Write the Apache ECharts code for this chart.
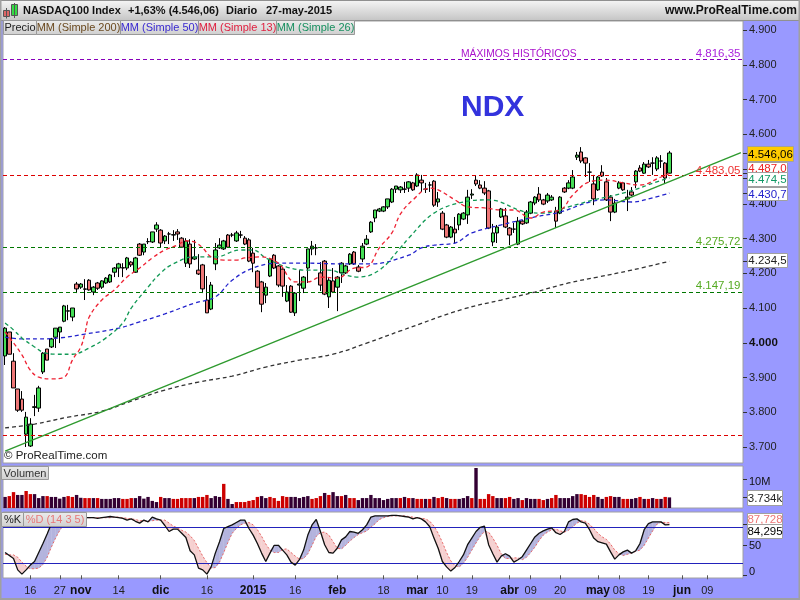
<!DOCTYPE html>
<html><head><meta charset="utf-8">
<style>html,body{margin:0;padding:0;background:#9999ff}#c{width:800px;height:600px}</style>
<script src="https://cdn.jsdelivr.net/npm/echarts@6/dist/echarts.min.js"></script>
</head><body><div id="c"></div>
<script>
const opens=[3962,4031,3947,3867,3838,3737,3703,3814,3812,3916,
3982,3988,4016,4031,4062,4091,4074,4169,4160,4155,
4180,4146,4172,4160,4172,4175,4203,4215,4215,4215,
4232,4203,4284,4261,4291,4290,4327,4324,4293,4313,
4310,4319,4301,4229,4284,4241,4209,4224,4123,4097,
4227,4273,4270,4310,4310,4293,4310,4301,4296,4258,
4206,4175,4137,4192,4252,4221,4212,4120,4163,4086,
4166,4157,4215,4270,4273,4201,4235,4132,4178,4160,
4201,4201,4227,4261,4218,4241,4284,4319,4359,4379,
4379,4391,4405,4442,4440,4442,4445,4460,4451,4468,
4442,4454,4465,4405,4373,4339,4304,4327,4339,4356,
4368,4425,4468,4454,4445,4437,4290,4316,4362,4365,
4330,4327,4284,4350,4345,4373,4402,4428,4411,4408,
4411,4379,4373,4445,4445,4445,4534,4549,4532,4491,
4457,4440,4491,4463,4419,4376,4445,4460,4414,4434,
4463,4503,4488,4514,4517,4500,4523,4517,4488];
const closes=[4042,3967,3870,3806,3806,3786,3766,3816,3870,3970,
3950,4011,4042,4045,4106,4092,4100,4155,4169,4154,
4152,4160,4157,4178,4186,4195,4215,4227,4216,4244,
4224,4244,4252,4284,4291,4319,4339,4287,4307,4313,
4311,4313,4275,4293,4227,4247,4198,4155,4086,4166,
4267,4281,4293,4275,4310,4316,4310,4284,4235,4229,
4160,4111,4160,4241,4215,4166,4163,4146,4088,4143,
4169,4189,4270,4278,4273,4166,4140,4180,4146,4189,
4229,4221,4255,4227,4206,4278,4298,4347,4382,4385,
4391,4414,4442,4451,4448,4442,4463,4440,4483,4460,
4442,4454,4396,4414,4327,4304,4333,4316,4370,4373,
4419,4428,4457,4445,4431,4330,4316,4333,4385,4333,
4310,4327,4350,4342,4376,4405,4419,4411,4399,4425,
4419,4350,4419,4434,4460,4477,4540,4523,4517,4491,
4414,4477,4480,4411,4376,4402,4460,4440,4419,4425,
4494,4494,4514,4506,4517,4532,4523,4474,4546.06];
const lows=[3936,3967,3870,3801,3801,3700,3700,3789,3801,3910,
3950,3985,3985,3999,4059,4065,4062,4143,4155,4123,
4150,4137,4152,4155,4169,4172,4189,4189,4189,4209,
4218,4201,4250,4252,4284,4287,4319,4273,4284,4284,
4293,4296,4273,4218,4215,4238,4195,4143,4086,4094,
4209,4270,4267,4273,4304,4290,4301,4281,4232,4203,
4157,4088,4114,4189,4212,4160,4132,4117,4086,4077,
4120,4143,4172,4252,4252,4149,4137,4100,4143,4091,
4172,4198,4224,4224,4203,4232,4281,4316,4347,4376,
4376,4385,4402,4431,4431,4431,4434,4437,4448,4434,
4431,4434,4391,4391,4324,4301,4301,4287,4324,4353,
4342,4414,4451,4442,4425,4327,4278,4287,4359,4330,
4281,4316,4281,4339,4342,4370,4396,4405,4396,4402,
4408,4330,4370,4431,4442,4442,4526,4517,4477,4463,
4396,4437,4477,4408,4350,4373,4442,4437,4379,4422,
4445,4491,4486,4503,4483,4494,4503,4457,4486];
const highs=[4045,4031,3970,3867,3861,3801,3783,3850,3876,3973,
3982,4014,4042,4045,4109,4109,4100,4175,4172,4183,
4183,4163,4175,4180,4189,4198,4218,4230,4229,4247,
4235,4247,4287,4284,4301,4319,4347,4327,4310,4319,
4324,4327,4304,4301,4298,4296,4255,4227,4192,4175,
4287,4301,4296,4313,4316,4322,4322,4307,4301,4273,
4209,4178,4172,4244,4255,4224,4215,4166,4166,4146,
4209,4192,4270,4293,4284,4232,4238,4186,4215,4192,
4232,4224,4258,4264,4224,4287,4310,4350,4382,4388,
4393,4414,4445,4451,4451,4463,4465,4463,4488,4483,
4460,4463,4468,4434,4379,4342,4336,4362,4373,4376,
4440,4442,4480,4468,4465,4440,4342,4339,4388,4388,
4333,4345,4362,4353,4382,4408,4422,4448,4414,4431,
4425,4391,4422,4448,4468,4497,4549,4563,4534,4517,
4483,4480,4511,4474,4425,4414,4465,4463,4440,4448,
4497,4511,4520,4526,4534,4537,4540,4520,4552];
const ma200=[[0,3755],[7,3766],[15,3786],[23,3803],[30,3832],[38,3864],[46,3887],[54,3904],[62,3930],[70,3950],[78,3967],[86,3999],[94,4034],[109,4097],[118,4123],[126,4146],[134,4172],[141,4189],[149,4209],[158,4234.5]];
const ma50=[[0,4016],[4,4011],[8,4011],[13,4014],[19,4025],[27,4042],[32,4060],[38,4083],[45,4114],[50,4132],[54,4180],[59,4215],[65,4229],[72,4229],[80,4227],[87,4227],[96,4252],[99,4273],[102,4281],[107,4287],[111,4316],[118,4339],[126,4362],[132,4376],[139,4405],[143,4411],[149,4405],[154,4417],[158,4430.7]];
const ma26=[[0,4057],[2,4037],[4,4014],[7,3988],[9,3973],[12,3967],[16,3967],[20,3985],[24,4014],[28,4057],[30,4100],[34,4160],[37,4201],[40,4227],[45,4247],[50,4247],[56,4267],[59,4267],[62,4244],[67,4218],[72,4209],[77,4209],[81,4195],[84,4189],[89,4209],[94,4273],[96,4301],[102,4373],[109,4405],[115,4411],[124,4376],[128,4373],[134,4391],[140,4411],[148,4434],[155,4463],[158,4474.5]];
const ma13=[[0,4031],[1,4016],[4,3965],[6,3921],[8,3901],[11,3896],[14,3901],[16,3950],[18,3988],[19,4028],[20,4074],[23,4123],[26,4152],[29,4189],[32,4215],[35,4244],[38,4267],[41,4281],[43,4293],[45,4290],[47,4273],[49,4247],[52,4238],[55,4238],[57,4244],[61,4247],[65,4229],[69,4175],[72,4175],[75,4189],[79,4186],[83,4215],[86,4218],[89,4273],[92,4316],[94,4370],[97,4411],[101,4445],[103,4440],[107,4411],[110,4391],[114,4388],[118,4382],[121,4382],[125,4359],[128,4376],[132,4382],[135,4425],[139,4463],[143,4468],[147,4460],[151,4454],[156,4477],[158,4487]];
const trendLine=[[0,3688],[175,4547]];
const levels=[4816.35,4483.05,4275.72,4147.19,3735];
const levelLabels=['4.816,35','4.483,05','4.275,72','4.147,19',''];
const levelColors=['#8800bb','#dd0000','#007700','#007700','#dd0000'];
const levelTextColors=['#aa22dd','#ee3333','#55aa22','#55aa22','#ee3333'];
const priceTicks=[3700,3800,3900,4000,4100,4200,4300,4400,4500,4600,4700,4800,4900];
const lastTicks=[4546.06,4487,4474.5,4430.7,4234.5];
const volumes=[3.9,4.2,5.6,4.6,4.6,6.0,4.9,4.9,3.5,4.2,4.2,3.9,3.9,3.3,3.9,4.2,3.9,4.6,3.6,3.5,
3.5,3.5,3.5,3.2,3.2,3.2,3.5,3.5,3.2,3.2,3.5,3.5,4.2,3.3,3.9,2.5,2.1,3.9,3.5,3.5,
3.2,3.2,3.5,3.5,3.5,3.5,3.9,3.9,4.6,3.5,4.2,3.9,8.5,3.2,1.4,2.1,2.1,2.1,2.5,2.8,
3.9,4.2,3.5,3.9,3.5,2.5,4.2,3.9,3.9,3.9,3.5,3.9,4.2,3.2,3.5,4.2,5.3,4.6,5.6,4.2,
4.2,4.6,3.5,3.5,2.8,3.5,3.5,4.6,3.5,3.5,2.8,3.2,3.5,3.5,3.5,3.9,3.5,3.5,3.2,3.2,
3.2,3.2,3.9,3.5,3.9,3.5,3.2,3.2,3.2,3.5,4.2,3.5,14.1,3.2,3.2,4.9,4.2,3.5,3.5,3.5,
3.9,3.2,3.5,2.8,3.5,3.2,3.2,3.2,2.8,3.2,3.5,4.6,3.5,3.5,3.5,4.2,4.9,4.9,4.6,3.9,
4.6,3.9,3.2,3.9,4.2,3.9,3.9,3.2,3.2,3.2,3.5,3.9,3.2,3.2,3.5,3.2,3.2,3.9,3.734];
const volumeKinds='DRRDDRRDDDRDDDDRRDDRRDRDDDDDRRRDDDDDDRDDRRRRRDRRRDDDRDDRRRRRRDDRRRRRDDDDDRRRDRDDRDRRDDDDDDDDDDRDRDRRDRDRRDRRDDDRDRRRRDDRRDDRDDDRRDRRDDDDDRRRRDDRRDDRRDDRDRDRDRD'.split('');
const stochK=[38,33,28,9,2,9,17,23,38,53,69,86,92,93,94,95,95,96,96,96,96,96,95,96,97,98,97,96,95,92,94,90,87,92,89,97,94,92,83,73,77,77,70,63,41,34,12,9,2,14,37,56,78,81,84,88,92,92,78,67,53,37,23,37,50,50,42,34,22,17,26,42,67,84,93,73,51,38,37,45,59,64,73,72,70,76,84,97,99,99,99,99,100,100,99,98,97,94,96,94,89,81,62,45,23,14,7,13,23,34,51,62,73,80,82,51,36,22,32,36,32,22,26,31,42,53,64,70,74,77,79,71,68,73,89,93,94,89,87,76,62,56,54,52,39,27,34,39,42,37,41,53,76,86,89,89,89,84,84.295];
const stochD=[35,34,34,30,22,15,11,11,12,18,30,47,62,75,85,90,93,94,95,95,96,96,96,96,96,96,97,97,96,95,94,93,91,91,90,91,92,92,92,87,82,79,75,72,66,58,45,32,21,12,13,22,38,55,70,78,84,87,88,84,76,65,52,42,38,38,43,44,38,32,27,28,36,50,65,71,72,67,56,45,44,50,57,63,68,71,74,80,86,93,96,98,99,99,99,99,98,97,96,95,94,90,82,70,55,38,24,16,14,20,30,42,54,65,73,72,62,50,36,28,28,29,29,26,30,38,47,58,67,72,76,77,74,72,75,81,87,91,90,85,78,70,64,60,52,42,36,33,35,37,40,42,50,62,74,85,88.5,88,87.728];
const stochLevels=[80,20];
const timeTickIdx=[6,13,18,27,37,48,59,69,79,90,98,104,111,120,125,132,141,146,153,161,167];
const timeTickText=['16','27','nov','14','dic','16','2015','16','feb','18','mar','10','19','abr','09','20','may','08','19','jun','09'];
const timeTickBold=['nov','dic','2015','feb','mar','abr','may','jun'];
const legendButtons=[['Precio','#222222',3,33],['MM (Simple 200)','#6b4a20',36,84],['MM (Simple 50)','#3a2ad0',120,78],['MM (Simple 13)','#e02040',198,78],['MM (Simple 26)','#189060',276,78]];

const FONT='"Liberation Sans",Arial,sans-serif';
const SLOTS=176;
const cats=[];for(let i=0;i<SLOTS;i++)cats.push(String(i));
const labelOf={};timeTickIdx.forEach((v,i)=>labelOf[v]=timeTickText[i]);
const candles=opens.map((o,i)=>[o,closes[i],lows[i],highs[i]]);
const fmtPrice=v=>{const t=Math.floor(v/1000);const r=String(Math.round(v-t*1000)).padStart(3,'0');return t+'.'+r;};

const g=[];
function rect(x,y,w,h,fill,stroke){g.push({type:'rect',z:100,silent:true,shape:{x:x,y:y,width:w,height:h},style:{fill:fill,stroke:stroke||null,lineWidth:stroke?1:0}});}
function text(x,y,t,color,font,align){g.push({type:'text',z:101,silent:true,x:x,y:y,style:{text:t,fill:color,font:font||('11px '+FONT),textAlign:align||'left',textVerticalAlign:'middle'}});}
const grad=(a,b)=>({type:'linear',x:0,y:0,x2:0,y2:1,colorStops:[{offset:0,color:a},{offset:1,color:b}]});
rect(0,0,800,20,grad('#f6f6f6','#c6c6c6'));
rect(0,0,800,1,'#909090');rect(0,20,800,1,'#909090');
rect(0,0,1.5,600,'#a0a0a0');rect(798.5,0,1.5,600,'#a0a0a0');rect(0,598,800,2,'#a0a0a0');
rect(3.5,10.5,6,6,'#dd6666','#555');rect(6,8,1,10.5,'#555');
rect(11.5,4.5,6,11,'#33dd44','#555');rect(14,3,1,15,'#555');
text(23,11,'NASDAQ100 Index','#111','bold 11px '+FONT);
text(128,11,'+1,63% (4.546,06)','#111','bold 11px '+FONT);
text(226,11,'Diario','#111','bold 11px '+FONT);
text(266,11,'27-may-2015','#111','bold 11px '+FONT);
text(797,11,'www.ProRealTime.com','#111','bold 12px '+FONT,'right');
const btn=(x,y,w,h,t,c)=>{rect(x+.5,y+.5,w,h,grad('#ececec','#cfcfcf'),'#999');text(x+w/2+.5,y+h/2+1,t,c,'11px '+FONT,'center');};
legendButtons.forEach(b=>btn(b[2],20,b[3],14,b[0],b[1]));
btn(1,466,47,13,'Volumen','#333');
btn(1,512,22,14,'%K','#222');
btn(23,512,63,14,'%D (14 3 5)','#e87878');
text(461,54,'MÁXIMOS HISTÓRICOS','#aa11cc','10.3px '+FONT);
text(461,108,'NDX','#3333dd','bold 30px '+FONT);
text(4,456,'© ProRealTime.com','#222','11.5px '+FONT);
levelLabels.forEach((t,i)=>{if(t)text(740.5,[54,170.5,242,286][i],t,levelTextColors[i],'11.5px '+FONT,'right');});
const tag=(x,y,w,h,t,c,f)=>{rect(x+.5,y+.5,w,h,f||'#ffffff','#a0a0a0');text(x+w/2+.5,y+h/2+1,t,c,'11.5px '+FONT,'center');};
tag(747,162,40,12,'4.487,0','#ee2222');
tag(747,146,46,15,'4.546,06','#000','#ffcc00');
tag(747,172,40,14,'4.474,5','#119966');
tag(747,187,40,13,'4.430,7','#2222cc');
tag(747,253,40,14,'4.234,5','#222');
tag(747,490,35,15,'3.734k','#222');
tag(747,513,35,12,'87,728','#ee7777');
tag(747,524,35,14,'84,295','#000');
text(749,482,'10M','#111','11px '+FONT);
text(749,546,'50','#111','11px '+FONT);
text(749,572,'0','#111','11px '+FONT);

const lineS=(name,data,color,z)=>({name:name,type:'line',data:data,xAxisIndex:0,yAxisIndex:0,smooth:0.4,showSymbol:false,symbol:'none',z:z||5,silent:true,
  lineStyle:{color:color,width:1.3,type:[4,3]}});
// Horizontal levels: one custom series per panel, placed with the panel's own value scale, snapped to a pixel row.
const flat=(vals,colors,xa,ya,dash,z)=>({type:'custom',xAxisIndex:xa,yAxisIndex:ya,z:z,silent:true,clip:false,
  data:vals.map((v,i)=>[0,v,i]),encode:{x:0,y:1},
  renderItem:(p,api)=>{
    const y=Math.round(api.coord([0,api.value(1)])[1])+0.5,cs=p.coordSys;
    return {type:'line',shape:{x1:cs.x,y1:y,x2:cs.x+cs.width,y2:y},style:{stroke:colors[api.value(2)],lineWidth:1,lineDash:dash||null}};
  }});

const option={
  animation:false,backgroundColor:'#9999ff',textStyle:{fontFamily:FONT},
  grid:[
    {left:3,top:21,width:740,height:442,show:true,backgroundColor:'#fff',borderColor:'#a0a0a0',borderWidth:1},
    {left:3,top:466,width:740,height:42,show:true,backgroundColor:'#fff',borderColor:'#a0a0a0',borderWidth:1},
    {left:3,top:512,width:740,height:66,show:true,backgroundColor:'#fff',borderColor:'#a0a0a0',borderWidth:1}
  ],
  xAxis:[0,1,2].map(n=>({type:'category',gridIndex:n,data:cats,boundaryGap:true,
    axisLine:{show:false},splitLine:{show:false},
    axisTick:{show:n===2,length:4,alignWithLabel:true,interval:(i)=>labelOf[i]!==undefined,lineStyle:{color:'#555'}},
    axisLabel:n===2?{show:true,interval:(i)=>labelOf[i]!==undefined,margin:7,hideOverlap:false,
      formatter:(v,i)=>{const t=labelOf[i];return timeTickBold.includes(t)?'{b|'+t+'}':'{n|'+t+'}';},
      rich:{b:{fontFamily:FONT,fontWeight:'bold',fontSize:12,color:'#111'},n:{fontFamily:FONT,fontSize:11,color:'#222'}}}:{show:false}})),
  yAxis:[
    {type:'value',gridIndex:0,position:'right',min:3654,max:4925.9,scale:true,splitLine:{show:false},
      axisLine:{show:false},
      axisTick:{show:true,length:4,customValues:priceTicks.concat(lastTicks),lineStyle:{color:'#333'}},
      axisLabel:{show:true,customValues:priceTicks,margin:6,
        formatter:v=>Math.round(v)===4000?'{b|'+fmtPrice(v)+'}':'{n|'+fmtPrice(v)+'}',
        rich:{b:{fontFamily:FONT,fontWeight:'bold',fontSize:11.5,color:'#111'},n:{fontFamily:FONT,fontSize:11,color:'#222'}}}},
    {type:'value',gridIndex:1,position:'right',min:0,max:14.8,splitLine:{show:false},axisLine:{show:false},
      axisTick:{show:true,length:4,customValues:[3.734,10],lineStyle:{color:'#333'}},
      axisLabel:{show:false}},
    {type:'value',gridIndex:2,position:'right',min:-4.5,max:105.5,splitLine:{show:false},axisLine:{show:false},
      axisTick:{show:true,length:4,customValues:[0,50,84.295],lineStyle:{color:'#333'}},
      axisLabel:{show:false}}
  ],
  graphic:{elements:g},
  series:[
    {type:'candlestick',name:'Precio',xAxisIndex:0,yAxisIndex:0,data:candles,barWidth:4,z:3,silent:true,
      itemStyle:{color:'#44dd55',color0:'#ee7777',borderColor:'#000',borderColor0:'#000',borderColorDoji:'#000',borderWidth:1}},
    lineS('SMA200',ma200,'#333333'),
    lineS('SMA50',ma50,'#2222cc'),
    lineS('SMA26',ma26,'#119955'),
    lineS('SMA13',ma13,'#ee2233'),
    {type:'line',name:'Trend',data:trendLine,xAxisIndex:0,yAxisIndex:0,showSymbol:false,symbol:'none',z:6,silent:true,lineStyle:{color:'#2e9a2e',width:1.4}},
    flat(levels,levelColors,0,0,[4,3],4),
    {type:'bar',name:'Volumen',xAxisIndex:1,yAxisIndex:1,data:volumes,barWidth:3.4,silent:true,
      itemStyle:{color:p=>volumeKinds[p.dataIndex]==='R'?'#cc0000':'#330033'}},
    {type:'custom',name:'KDfill',xAxisIndex:2,yAxisIndex:2,z:2,silent:true,
      data:stochK.map((k,i)=>[i,k,stochD[i]]),encode:{x:0,y:[1,2]},
      renderItem:(p,api)=>{
        const i=api.value(0);if(i>=stochK.length-1)return {type:'group',children:[]};
        const k0=stochK[i],d0=stochD[i],k1=stochK[i+1],d1=stochD[i+1];
        const a=k0-d0,b=k1-d1,blue='#b4b4de',pink='#f6d0d0';
        const poly=(pts,f)=>({type:'polygon',shape:{points:pts.map(q=>api.coord(q))},style:{fill:f,stroke:f,lineWidth:.3}});
        if(a*b>=0)return poly([[i,k0],[i+1,k1],[i+1,d1],[i,d0]],(a+b)>=0?blue:pink);
        const t=a/(a-b),xc=i+t,yc=k0+(k1-k0)*t;
        return {type:'group',children:[poly([[i,k0],[xc,yc],[i,d0]],a>0?blue:pink),poly([[xc,yc],[i+1,k1],[i+1,d1]],b>0?blue:pink)]};
      }},
    {type:'line',name:'%D',xAxisIndex:2,yAxisIndex:2,data:stochD,showSymbol:false,symbol:'none',z:3,silent:true,lineStyle:{color:'#e86a6a',width:1,type:[2,2]}},
    {type:'line',name:'%K',xAxisIndex:2,yAxisIndex:2,data:stochK,showSymbol:false,symbol:'none',z:5,silent:true,lineStyle:{color:'#111',width:1.3}},
    flat(stochLevels,['#2222bb','#2222bb'],2,2,null,4)
  ]
};
const chart=echarts.init(document.getElementById('c'),null,{renderer:'canvas',width:800,height:600});
chart.setOption(option);
</script></body></html>
